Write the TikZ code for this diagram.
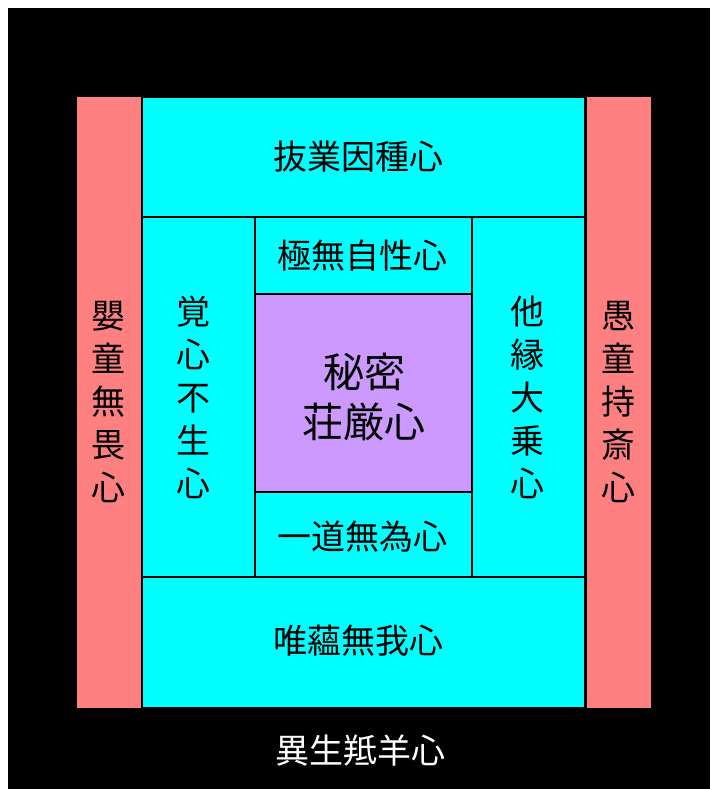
\documentclass[tikz,border=0pt]{standalone}
\usepackage{fontspec}
\newfontfamily\cjk{Noto Sans CJK JP}
\definecolor{pinkbox}{RGB}{255,128,128}
\definecolor{cyanbox}{RGB}{0,255,255}
\definecolor{purplebox}{RGB}{204,153,255}
\tikzset{
  cell/.style={draw=black, line width=1.6pt, anchor=north west, inner sep=0pt},
  cyancell/.style={cell, fill=cyanbox},
  pinkcell/.style={cell, draw=none, fill=pinkbox},
  centercell/.style={cell, fill=purplebox},
  txt/.style={inner sep=0pt, align=center, font=\cjk\fontsize{34}{43}\selectfont},
  bigtxt/.style={txt, font=\cjk\fontsize{41}{50}\selectfont},
}
\begin{document}
\begin{tikzpicture}[x=1pt,y=-1pt]
\useasboundingbox (0,0) rectangle (710,789);
\fill[white] (0,0) rectangle (710,789);
\fill[black] (8,8) rectangle (710,789);
\node[pinkcell, minimum width=64pt, minimum height=611pt] (pl) at (76,96) {};
\node[pinkcell, minimum width=64pt, minimum height=611pt] (pr) at (586,96) {};
\node[cyancell, minimum width=443pt, minimum height=120pt] (top) at (141,96) {};
\node[cyancell, minimum width=443pt, minimum height=131pt] (bot) at (141,576) {};
\node[cyancell, minimum width=113pt, minimum height=360pt] (lc) at (141,216) {};
\node[cyancell, minimum width=113pt, minimum height=360pt] (rc) at (471,216) {};
\node[cyancell, minimum width=217pt, minimum height=77pt] (mt) at (254,216) {};
\node[cyancell, minimum width=217pt, minimum height=85pt] (mb) at (254,491) {};
\node[centercell, minimum width=217pt, minimum height=198pt] (ctr) at (254,293) {};
\node[txt] (tpl) at (108,402) {嬰\\童\\無\\畏\\心};
\node[txt] (tpr) at (618,402) {愚\\童\\持\\斎\\心};
\node[txt] (ttop) at (358,157) {抜業因種心};
\node[txt] (tbot) at (358,641) {唯蘊無我心};
\node[txt] (tlc) at (193,397) {覚\\心\\不\\生\\心};
\node[txt] (trc) at (527,397) {他\\縁\\大\\乗\\心};
\node[txt] (tmt) at (362,256) {極無自性心};
\node[txt] (tmb) at (362,537) {一道無為心};
\node[bigtxt] (tctr) at (364,397) {秘密\\荘厳心};
\node[txt, text=white] (outer) at (360,751) {異生羝羊心};
\end{tikzpicture}
\end{document}
